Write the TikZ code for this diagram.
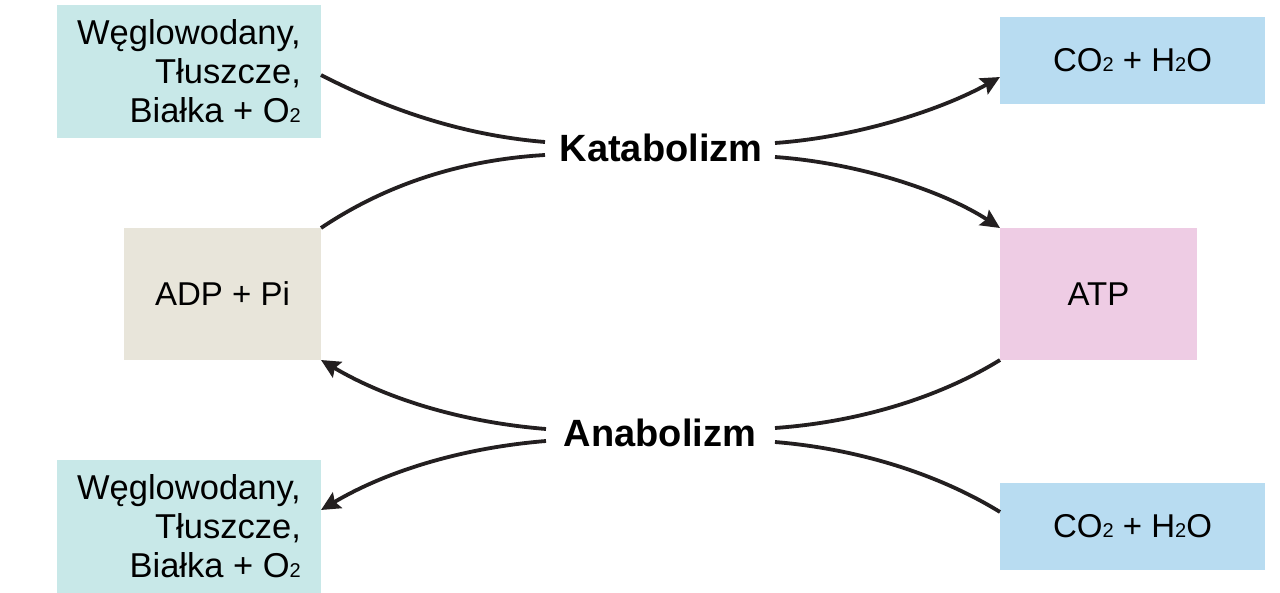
\documentclass[tikz,border=0pt]{standalone}
\usepackage{fontspec}
\setmainfont{Liberation Sans}
\usetikzlibrary{arrows.meta}
\definecolor{cyanbox}{HTML}{C8E8E8}
\definecolor{bluebox}{HTML}{B8DCF1}
\definecolor{beigebox}{HTML}{E8E5DA}
\definecolor{pinkbox}{HTML}{EECCE4}
\definecolor{linecol}{HTML}{231F20}
\newcommand\subtwo{{\fontsize{20}{20}\selectfont 2}}
\begin{document}
\begin{tikzpicture}[x=1pt,y=-1pt,
  box/.style={inner sep=0pt, outer sep=0pt, font=\fontsize{33}{39}\selectfont, text=black},
  bigbox/.style={box, minimum width=264pt, minimum height=133pt, fill=cyanbox, align=right, font=\fontsize{34.5}{39}\selectfont},
  co/.style={box, minimum width=265pt, minimum height=87pt, fill=bluebox},
  sq/.style={box, minimum width=197pt, minimum height=132pt},
  proc/.style={inner sep=0pt, font=\fontsize{38}{40}\selectfont\bfseries},
  conn/.style={line width=3.8pt, draw=linecol},
  arr/.style={conn, -{Stealth[length=19pt,width=18pt,inset=3pt]}}
]
\useasboundingbox (0,0) rectangle (1280,593);
\fill[white] (0,0) rectangle (1280,593);

\node[bigbox] (tl) at (189,71.5) {Węglowodany,\\Tłuszcze,\\Białka + O\subtwo};
\node[co] (tr) at (1132.5,60.5) {CO\subtwo{} + H\subtwo O};
\node[sq, fill=beigebox] (adp) at (222.5,294) {ADP + Pi};
\node[sq, fill=pinkbox] (atp) at (1098.5,294) {ATP};
\node[bigbox] (bl) at (189,526.5) {Węglowodany,\\Tłuszcze,\\Białka + O\subtwo};
\node[co] (br) at (1132.5,526.5) {CO\subtwo{} + H\subtwo O};

\node[proc] (kat) at (661,148) {Katabolizm};
\node[proc] (ana) at (660,433) {Anabolizm};

\coordinate (k1) at (545,142);
\coordinate (k2) at (545,155);
\coordinate (k3) at (775,143);
\coordinate (k4) at (775,157);
\coordinate (a1) at (546,429);
\coordinate (a2) at (546,441);
\coordinate (a3) at (775,428);
\coordinate (a4) at (775,442);

% Katabolizm
\draw[conn] (tl.east |- 0,75) .. controls (385,108) and (460,135) .. (k1);
\draw[conn] (adp.north east) .. controls (385,185) and (460,160) .. (k2);
\draw[arr] (k3) .. controls (860,137) and (945,108) .. (tr.west |- 0,77);
\draw[arr] (k4) .. controls (860,163) and (945,192) .. (atp.north west);

% Anabolizm
\draw[arr] (a1) .. controls (460,422) and (385,398) .. (adp.south east);
\draw[arr] (a2) .. controls (460,448) and (385,472) .. (bl.east |- 0,510);
\draw[conn] (atp.south west) .. controls (940,397) and (860,422) .. (a3);
\draw[conn] (br.west |- 0,512) .. controls (940,475) and (860,449) .. (a4);
\end{tikzpicture}
\end{document}
